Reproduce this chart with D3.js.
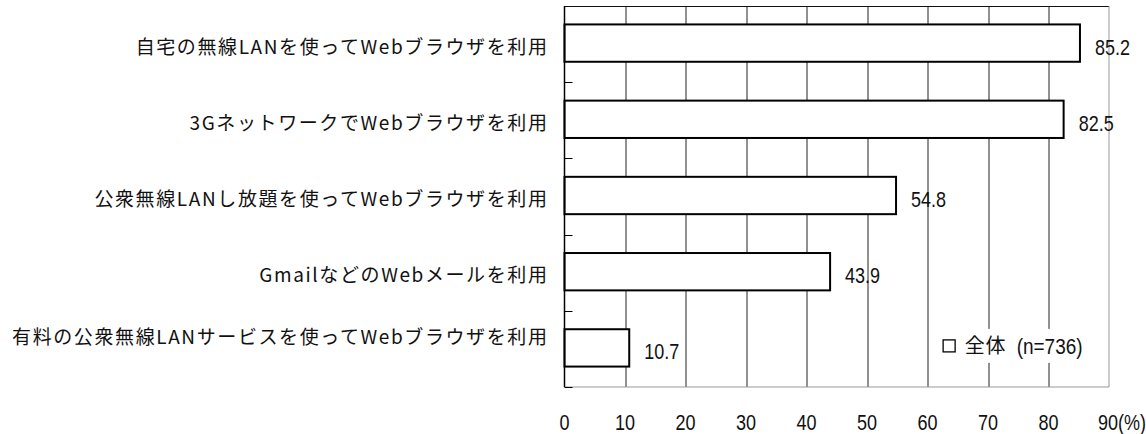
<!DOCTYPE html>
<html>
<head>
<meta charset="utf-8">
<script src="https://cdn.jsdelivr.net/npm/d3@7"></script>
<style>
  body { margin: 0; background: #fff; }
  .cat { font-family: "Noto Sans CJK JP", sans-serif; font-size: 19px; letter-spacing: 1.6px; fill: #111; }
  .num { font-family: "Liberation Sans", Arial, sans-serif; font-size: 18px; fill: #111; }
</style>
</head>
<body>
<div id="wrapper"></div>
<script>
const categories = [
  "自宅の無線LANを使ってWebブラウザを利用",
  "3GネットワークでWebブラウザを利用",
  "公衆無線LANし放題を使ってWebブラウザを利用",
  "GmailなどのWebメールを利用",
  "有料の公衆無線LANサービスを使ってWebブラウザを利用"
]
const values = [85.2, 82.5, 54.8, 43.9, 10.7]
const xTicks = [0, 10, 20, 30, 40, 50, 60, 70, 80, 90]
const legendName = "全体"
const legendN = "(n=736)"

let dimensions = {
  width: 1146,
  height: 434,
  margin: { top: 6, right: 37, bottom: 47, left: 564.5 }
}
dimensions.boundedWidth = dimensions.width - dimensions.margin.left - dimensions.margin.right
dimensions.boundedHeight = dimensions.height - dimensions.margin.top - dimensions.margin.bottom

const svg = d3.select("#wrapper")
  .append("svg")
  .attr("width", dimensions.width)
  .attr("height", dimensions.height)

const bounds = svg.append("g")
  .attr("transform", `translate(${dimensions.margin.left},${dimensions.margin.top})`)

const xScale = d3.scaleLinear()
  .domain([0, 90])
  .range([0, dimensions.boundedWidth])

const yScale = d3.scaleBand()
  .domain(d3.range(categories.length))
  .range([0, dimensions.boundedHeight])
  .paddingInner(0.51)
  .paddingOuter(0.255)

// grid lines
bounds.selectAll(".grid").data(xTicks.slice(1, -1))
  .enter().append("line")
  .attr("class", "grid")
  .attr("x1", d => Math.round(xScale(d)) + 0.5)
  .attr("x2", d => Math.round(xScale(d)) + 0.5)
  .attr("y1", 0)
  .attr("y2", dimensions.boundedHeight)
  .attr("stroke", "#222")
  .attr("stroke-width", 1)

// frame
bounds.append("line").attr("x1", 0).attr("x2", dimensions.boundedWidth)
  .attr("y1", 0.5).attr("y2", 0.5).attr("stroke", "#111")
bounds.append("line").attr("x1", dimensions.boundedWidth).attr("x2", dimensions.boundedWidth)
  .attr("y1", 0).attr("y2", dimensions.boundedHeight).attr("stroke", "#999")
bounds.append("line").attr("x1", 0).attr("x2", dimensions.boundedWidth)
  .attr("y1", dimensions.boundedHeight).attr("y2", dimensions.boundedHeight).attr("stroke", "#999")

// bars
bounds.selectAll(".bar").data(values)
  .enter().append("rect")
  .attr("class", "bar")
  .attr("x", 0)
  .attr("y", (d, i) => yScale(i) - 1)
  .attr("width", d => xScale(d))
  .attr("height", yScale.bandwidth())
  .attr("fill", "#fff")
  .attr("stroke", "#000")
  .attr("stroke-width", 2)

// value labels
bounds.selectAll(".val").data(values)
  .enter().append("text")
  .attr("class", "num")
  .attr("transform", (d, i) => `translate(${xScale(d) + 15},${yScale(i) + yScale.bandwidth() / 2 + 3}) scale(1,1.2)`)
  .attr("dy", "0.35em")
  .text(d => d.toFixed(1))

// left axis line and ticks at band boundaries
bounds.append("line").attr("x1", 0).attr("x2", 0)
  .attr("y1", 0).attr("y2", dimensions.boundedHeight)
  .attr("stroke", "#000").attr("stroke-width", 1.5)
bounds.selectAll(".ytick").data(d3.range(1, categories.length + 1))
  .enter().append("line")
  .attr("x1", 0).attr("x2", 8)
  .attr("y1", i => Math.round(i * yScale.step()) + 0.5)
  .attr("y2", i => Math.round(i * yScale.step()) + 0.5)
  .attr("stroke", "#000")

// category labels
bounds.selectAll(".cat").data(categories)
  .enter().append("text")
  .attr("class", "cat")
  .attr("x", -16)
  .attr("y", (d, i) => yScale(i) + yScale.bandwidth() / 2 + 3 - (i === categories.length - 1 ? 15 : 0))
  .attr("dy", "0.35em")
  .attr("text-anchor", "end")
  .text(d => d)

// x tick labels
bounds.selectAll(".xlab").data(xTicks)
  .enter().append("text")
  .attr("class", "num")
  .attr("text-anchor", d => d === 90 ? "start" : "middle")
  .attr("transform", d => `translate(${xScale(d) - (d === 90 ? 11 : 0)},${dimensions.boundedHeight + 35}) scale(1,1.2)`)
  .attr("dy", "0.35em")
  .text(d => d === 90 ? "90(%)" : d)

// legend
const legend = bounds.append("g")
  .attr("transform", `translate(${xScale(62.5)},${yScale(4) + yScale.bandwidth() / 2 - 3})`)
legend.append("rect")
  .attr("x", -6).attr("y", -17)
  .attr("width", 152).attr("height", 34)
  .attr("fill", "#fff")
legend.append("rect")
  .attr("x", 0.5).attr("y", -6)
  .attr("width", 12).attr("height", 12)
  .attr("fill", "#fff").attr("stroke", "#000").attr("stroke-width", 1.3)
legend.append("text")
  .attr("class", "cat")
  .attr("x", 22)
  .attr("dy", "0.35em")
  .style("font-size", "20px")
  .style("letter-spacing", "1px")
  .text(legendName)
legend.append("text")
  .attr("class", "num")
  .attr("transform", "translate(74,0) scale(1,1.2)")
  .attr("dy", "0.35em")
  .style("font-size", "19px")
  .text(legendN)
</script>
</body>
</html>
